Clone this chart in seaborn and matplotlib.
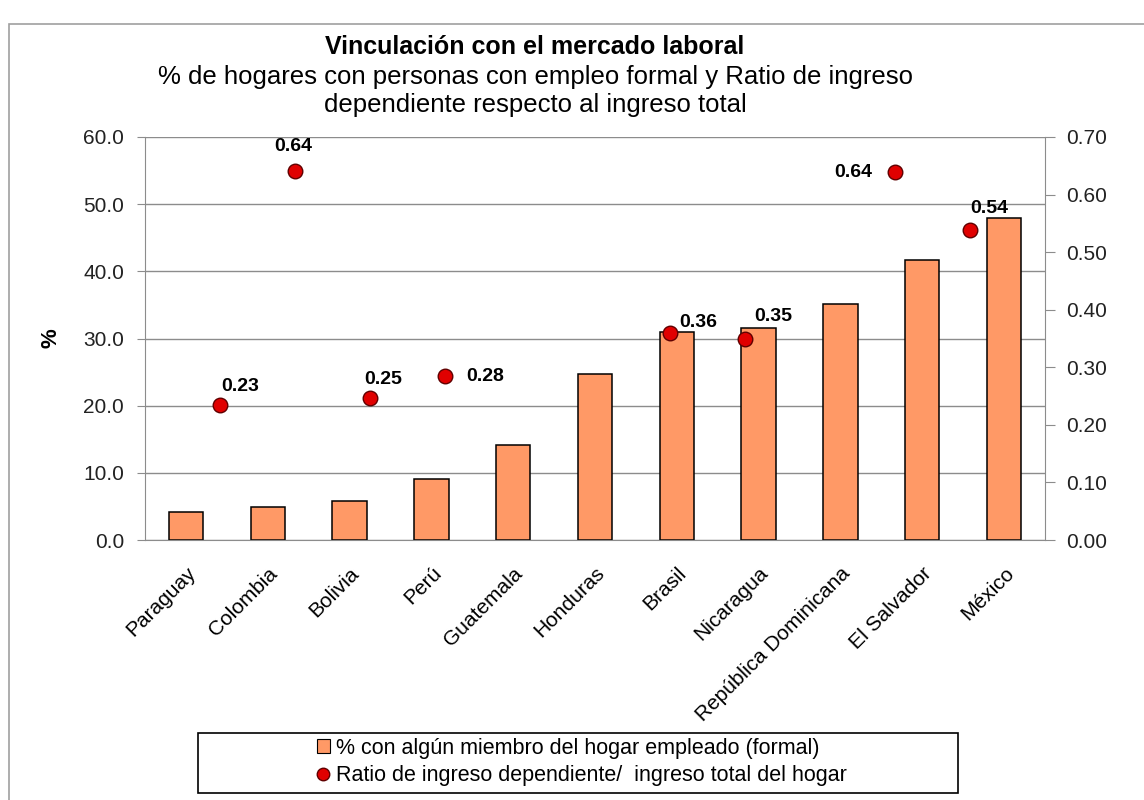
import matplotlib
matplotlib.use("Agg")
import matplotlib.pyplot as plt
from matplotlib.patches import Rectangle, Patch
from matplotlib.lines import Line2D
import seaborn as sns
import numpy as np
import pandas as pd

# data
countries = ["Paraguay", "Colombia", "Bolivia", "Perú", "Guatemala", "Honduras",
             "Brasil", "Nicaragua", "República Dominicana", "El Salvador", "México"]
pct_formal = [4.1, 4.9, 5.8, 9.1, 14.1, 24.7, 30.9, 31.6, 35.1, 41.7, 47.9]
ratio_dep = [0.234, 0.641, 0.247, 0.284, np.nan, np.nan, 0.360, 0.349, np.nan, 0.639, 0.538]
# label offsets (pixels) for the ratio annotations
label_offsets = [(20, 19), (-2, 24), (13, 18), (40, 0), None, None,
                 (28, 10), (28, 23), None, (-42, 0), (19, 22)]

BAR_COLOR = "#FF9966"
DOT_COLOR = "#E00000"
GRID = "#8C8C8C"

sns.set_style("white")
plt.rcParams["font.family"] = ["Liberation Sans", "DejaVu Sans"]
for key in ["text.color", "axes.labelcolor", "xtick.color", "ytick.color"]:
    plt.rcParams[key] = "black"

fig = plt.figure(figsize=(11.44, 8), dpi=100)
ax = fig.add_axes([145 / 1144, 1 - 540 / 800, 900 / 1144, 403 / 800])

df = pd.DataFrame({"pais": countries, "pct": pct_formal, "ratio": ratio_dep})
n = len(df)
# the ratio series sits on Excel's secondary category axis (n + 1 slots)
df["xdot"] = -0.5 + n * (np.arange(n) + 1) / (n + 1)

sns.barplot(data=df, x="pais", y="pct", ax=ax, color=BAR_COLOR,
            edgecolor="black", linewidth=1.1, width=0.42, saturation=1)
ax.set_ylim(0, 60)
ax.set_xlim(-0.5, n - 0.5)
ax.set_yticks(np.arange(0, 61, 10))
ax.set_yticklabels([f"{v:.1f}" for v in np.arange(0, 61, 10)], fontsize=15)
ax.set_xticks(range(n))
ax.set_xticklabels(countries, rotation=45, ha="right", rotation_mode="anchor", fontsize=15)
ax.tick_params(axis="x", length=0, pad=17)
ax.tick_params(axis="y", length=6, color=GRID, pad=9, labelcolor="#222222")
ax.yaxis.grid(True, color=GRID, linewidth=1)
ax.set_axisbelow(True)
ax.set_xlabel("")
ax.set_ylabel("%", fontsize=16, fontweight="bold", labelpad=16)
for side in ["left", "bottom"]:
    ax.spines[side].set_color(GRID)
ax.spines["top"].set_visible(False)
ax.spines["right"].set_visible(False)

ax2 = ax.twinx()
dots = df.dropna(subset=["ratio"])
sns.scatterplot(data=dots, x="xdot", y="ratio", ax=ax2, color=DOT_COLOR,
                edgecolor="#600000", linewidth=1, s=110, zorder=5, legend=False)
ax2.set_ylim(0, 0.7)
ax2.set_yticks(np.arange(0, 0.71, 0.1))
ax2.set_yticklabels([f"{v:.2f}" for v in np.arange(0, 0.71, 0.1)], fontsize=15)
ax2.tick_params(axis="y", length=7, color=GRID, pad=8, labelcolor="#222222")
ax2.set_ylabel("")
ax2.set_xlabel("")
ax2.spines["right"].set_color(GRID)
for side in ["left", "top", "bottom"]:
    ax2.spines[side].set_visible(False)

for (_, row), off in zip(df.iterrows(), label_offsets):
    if off is None or np.isnan(row["ratio"]):
        continue
    ax2.annotate(f"{row['ratio']:.2f}", (row["xdot"], row["ratio"]),
                 xytext=off, textcoords="offset pixels", ha="center", va="center",
                 fontsize=14, fontweight="bold")

# titles
fig.text(535 / 1144, 1 - 47 / 800, "Vinculación con el mercado laboral",
         ha="center", va="center", fontsize=18, fontweight="bold")
fig.text(535 / 1144, 1 - 77 / 800, "% de hogares con personas con empleo formal y Ratio de ingreso",
         ha="center", va="center", fontsize=18.5)
fig.text(535 / 1144, 1 - 105 / 800, "dependiente respecto al ingreso total",
         ha="center", va="center", fontsize=18.5)

# outer chart frame
fig.patches.append(Rectangle((9 / 1144, -0.05), 1.2, 1 - 24 / 800 + 0.05,
                             transform=fig.transFigure, fill=False,
                             edgecolor="#A0A0A0", linewidth=1.2))

# legend box
fig.patches.append(Rectangle((198 / 1144, 1 - 793 / 800), 760 / 1144, 60 / 800,
                             transform=fig.transFigure, fill=False,
                             edgecolor="black", linewidth=1.2))
handles = [
    Patch(facecolor=BAR_COLOR, edgecolor="black", linewidth=0.8),
    Line2D([], [], marker="o", linestyle="none", markerfacecolor=DOT_COLOR,
           markeredgecolor="#600000", markersize=9),
]
fig.legend(handles, ["% con algún miembro del hogar empleado (formal)",
                     "Ratio de ingreso dependiente/  ingreso total del hogar"],
           loc="center", bbox_to_anchor=(582 / 1144, 1 - 762 / 800), frameon=False,
           fontsize=15.5, handlelength=0.6, handleheight=0.6, handletextpad=0.3,
           labelspacing=0.3, borderpad=0)

fig.savefig("out.png", dpi=100)
